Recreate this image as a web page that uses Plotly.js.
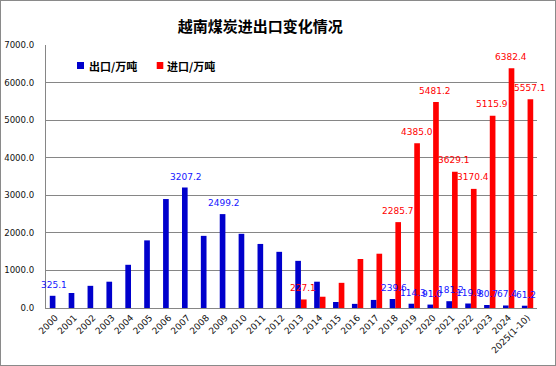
<!DOCTYPE html>
<html>
<head>
<meta charset="utf-8">
<script src="https://cdn.plot.ly/plotly-3.0.1.min.js"></script>
<style>
  html, body { margin: 0; padding: 0; background: #fff; }
  #chart { width: 556px; height: 366px; box-sizing: border-box; border: 1px solid #8a8a8a; }
</style>
</head>
<body>
<div id="chart"></div>
<script>
// ---- data ----
var years = ['2000','2001','2002','2003','2004','2005','2006','2007','2008','2009','2010','2011','2012',
             '2013','2014','2015','2016','2017','2018','2019','2020','2021','2022','2023','2024','2025(1-10)'];
var exportVals = [325.1, 400, 590, 700, 1150, 1800, 2900, 3207.2, 1920, 2499.2, 1975, 1705, 1495,
                  1255, 700, 160, 110, 215, 239.6, 114.3, 91.0, 181.2, 119.9, 80.7, 67.4, 61.2];
var importVals = [null, null, null, null, null, null, null, null, null, null, null, null, null,
                  227.1, 300, 670, 1305, 1445, 2285.7, 4385.0, 5481.2, 3629.1, 3170.4, 5115.9, 6382.4, 5557.1];
var exportLabelYears = ['2000','2007','2009','2018','2019','2020','2021','2022','2023','2024','2025(1-10)'];
var importLabelYears = ['2013','2018','2019','2020','2021','2022','2023','2024','2025(1-10)'];
var seriesNames = ['出口/万吨', '进口/万吨'];
var titleText = '越南煤炭进出口变化情况';

var numFont = 'DejaVu Sans, Liberation Sans, sans-serif';
var cjkFont = 'Noto Sans CJK SC, Noto Sans, sans-serif';
var exportColor = '#0000CC', importColor = '#FF0000';
var exportLabelColor = '#1414FF', importLabelColor = '#FF0000';

var traces = [
  { type: 'bar', name: seriesNames[0], x: years, y: exportVals,
    marker: { color: exportColor }, showlegend: false, hoverinfo: 'x+y' },
  { type: 'bar', name: seriesNames[1], x: years, y: importVals,
    marker: { color: importColor }, showlegend: false, hoverinfo: 'x+y' }
];

// value labels placed through the axes' own scales (x = category index)
function valueLabels(vals, keep, color, xshift, yshift) {
  var out = [];
  vals.forEach(function (v, i) {
    if (v === null || keep.indexOf(years[i]) < 0) return;
    out.push({ xref: 'x', yref: 'y', x: i, y: v, text: v.toFixed(1), showarrow: false,
               xanchor: 'center', yanchor: 'middle', xshift: xshift, yshift: yshift,
               font: { family: numFont, size: 9, color: color } });
  });
  return out;
}

var annotations = []
  .concat(valueLabels(exportVals, exportLabelYears, exportLabelColor, -1.5, 11))
  .concat(valueLabels(importVals, importLabelYears, importLabelColor, 2.3, 11.5))
  .concat([
    { xref: 'paper', yref: 'paper', x: 0.0835, y: 0.921, xanchor: 'left', yanchor: 'middle',
      text: '<b>' + seriesNames[0] + '</b>', showarrow: false,
      font: { family: cjkFont, size: 11, color: '#000000' } },
    { xref: 'paper', yref: 'paper', x: 0.2424, y: 0.921, xanchor: 'left', yanchor: 'middle',
      text: '<b>' + seriesNames[1] + '</b>', showarrow: false,
      font: { family: cjkFont, size: 11, color: '#000000' } }
  ]);

var layout = {
  width: 554, height: 364,
  paper_bgcolor: '#ffffff', plot_bgcolor: '#ffffff',
  margin: { l: 45, r: 18, t: 44, b: 57, pad: 0 },
  title: {
    text: '<b>' + titleText + '</b>',
    font: { family: cjkFont, size: 15, color: '#000000' },
    x: 0.468, xanchor: 'center', xref: 'container',
    y: 0.93, yanchor: 'middle', yref: 'container'
  },
  barmode: 'group', bargap: 0.4, bargroupgap: 0,
  xaxis: {
    type: 'category', tickangle: -45, range: [-0.5, years.length - 0.5],
    showline: true, linecolor: '#868686', linewidth: 1,
    showgrid: false, ticks: '', zeroline: false,
    tickfont: { family: numFont, size: 9, color: '#111111' }
  },
  yaxis: {
    range: [0, 7000], dtick: 1000, tickformat: '.1f',
    showline: true, linecolor: '#868686', linewidth: 1,
    showgrid: true, gridcolor: '#868686', gridwidth: 1,
    zeroline: false, ticks: '', ticklabelstandoff: 9,
    tickfont: { family: numFont, size: 8.6, color: '#111111' }
  },
  showlegend: false,
  shapes: [
    { type: 'rect', xref: 'paper', yref: 'paper', x0: 0.0631, x1: 0.0774, y0: 0.9087, y1: 0.9354,
      fillcolor: exportColor, line: { width: 0 } },
    { type: 'rect', xref: 'paper', yref: 'paper', x0: 0.2255, x1: 0.2389, y0: 0.9087, y1: 0.9354,
      fillcolor: importColor, line: { width: 0 } }
  ],
  annotations: annotations
};

Plotly.newPlot('chart', traces, layout, { displayModeBar: false, staticPlot: true });
</script>
</body>
</html>
